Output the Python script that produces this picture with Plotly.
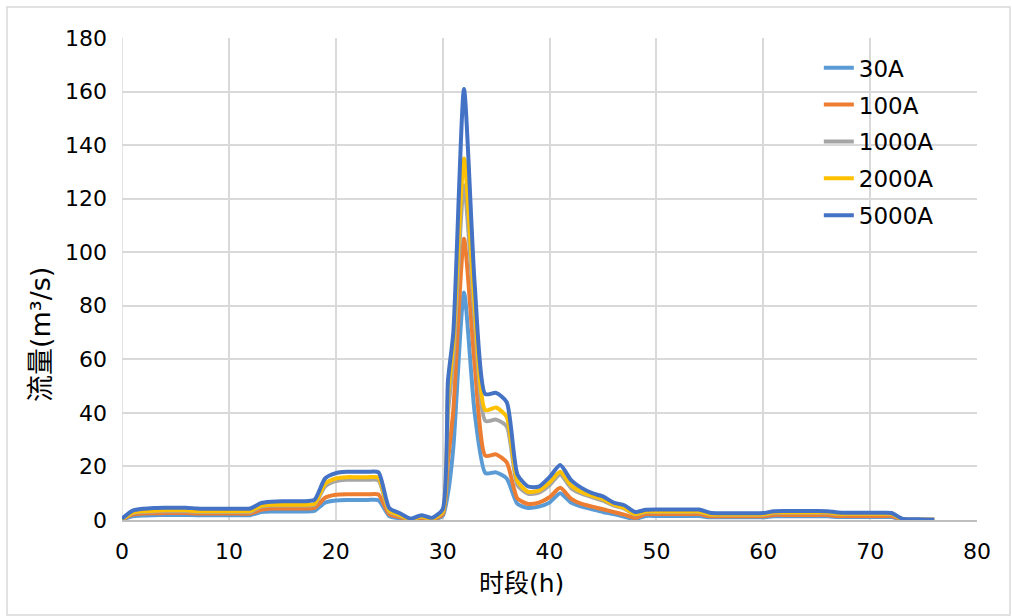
import plotly.graph_objects as go

hours = list(range(0, 31)) + [30.5] + list(range(31, 77))
hours = sorted(hours)

q_30A = [0.1, 1.4, 1.7, 1.8, 1.9, 1.9, 1.9, 1.8, 1.8, 1.8, 1.8, 1.8, 1.8,
         3.0, 3.2, 3.2, 3.2, 3.2, 3.4, 6.5, 7.3, 7.5, 7.5, 7.5, 7.4,
         1.5, 0.6, 0.1, 0.5, 0.2, 1.5, 10, 27, 85, 40, 17.5, 17.8, 15.5,
         6.0, 4.5, 5.0, 6.5, 10.0, 6.5, 5.0, 4.0, 3.0, 2.2, 1.2, 0.3,
         1.5, 1.5, 1.5, 1.5, 1.5, 1.5, 1.0, 1.0, 1.0, 1.0, 1.0, 1.0,
         1.4, 1.4, 1.4, 1.4, 1.4, 1.4, 1.1, 1.1, 1.1, 1.1, 1.1, 1.1,
         0.1, 0.05, 0.05, 0.05]

q_100A = [0.2, 2.0, 2.4, 2.5, 2.6, 2.6, 2.6, 2.4, 2.4, 2.4, 2.4, 2.4, 2.4,
          3.8, 4.3, 4.3, 4.3, 4.3, 4.5, 8.3, 9.4, 9.6, 9.6, 9.6, 9.5,
          2.2, 1.0, 0.2, 0.8, 0.3, 2.0, 22, 41, 105, 58, 24, 24.5, 21.5,
          8.0, 6.0, 6.5, 8.5, 12.0, 8.0, 6.0, 5.0, 4.0, 3.0, 2.0, 0.8,
          2.2, 2.2, 2.2, 2.2, 2.2, 2.2, 1.4, 1.4, 1.4, 1.4, 1.4, 1.4,
          1.9, 1.9, 1.9, 1.9, 1.9, 1.9, 1.5, 1.5, 1.5, 1.5, 1.5, 1.5,
          0.2, 0.05, 0.05, 0.05]

q_1000A = [0.3, 2.6, 3.0, 3.2, 3.3, 3.3, 3.3, 3.0, 3.0, 3.0, 3.0, 3.0, 3.0,
           5.0, 5.4, 5.4, 5.4, 5.4, 5.7, 12.5, 14.5, 15.0, 15.0, 15.0, 14.8,
           3.2, 1.6, 0.3, 1.2, 0.5, 2.8, 40, 60, 125, 75, 37, 37.5, 35,
           13.0, 9.8, 10.2, 13.0, 17.0, 12.0, 9.8, 8.5, 7.2, 5.4, 4.2, 2.0,
           3.0, 3.0, 3.0, 3.0, 3.0, 3.0, 2.0, 2.0, 2.0, 2.0, 2.0, 2.0,
           2.7, 2.7, 2.7, 2.7, 2.7, 2.7, 2.2, 2.2, 2.2, 2.2, 2.2, 2.2,
           0.3, 0.1, 0.1, 0.1]

q_2000A = [0.3, 2.8, 3.3, 3.5, 3.6, 3.6, 3.6, 3.3, 3.3, 3.3, 3.3, 3.3, 3.3,
           5.3, 5.7, 5.7, 5.7, 5.7, 6.0, 13.5, 15.5, 16.0, 16.0, 16.0, 15.8,
           3.5, 1.8, 0.3, 1.3, 0.5, 3.0, 46, 66, 135, 80, 41, 42, 38.5,
           14.5, 10.5, 11.0, 14.0, 18.0, 13.0, 10.5, 9.0, 7.8, 5.8, 4.5, 2.2,
           3.2, 3.2, 3.2, 3.2, 3.2, 3.2, 2.1, 2.1, 2.1, 2.1, 2.1, 2.1,
           2.9, 2.9, 2.9, 2.9, 2.9, 2.9, 2.3, 2.3, 2.3, 2.3, 2.3, 2.3,
           0.3, 0.1, 0.1, 0.1]

q_5000A = [0.5, 3.5, 4.2, 4.5, 4.6, 4.6, 4.6, 4.3, 4.2, 4.2, 4.2, 4.2, 4.3,
           6.3, 6.8, 7.0, 7.0, 7.0, 7.5, 15.5, 17.5, 18.0, 18.0, 18.0, 17.8,
           4.5, 2.5, 0.5, 1.8, 0.8, 4.0, 52, 70, 161, 88, 47, 47.5, 44,
           17.0, 12.5, 12.5, 16.0, 20.5, 15.0, 12.0, 10.0, 8.8, 6.5, 5.5, 3.0,
           3.8, 3.9, 3.9, 3.9, 3.9, 3.9, 2.7, 2.5, 2.5, 2.5, 2.5, 2.6,
           3.3, 3.4, 3.4, 3.4, 3.4, 3.3, 2.8, 2.7, 2.7, 2.7, 2.7, 2.6,
           0.5, 0.3, 0.2, 0.1]

series_names = ["30A", "100A", "1000A", "2000A", "5000A"]
series_values = [q_30A, q_100A, q_1000A, q_2000A, q_5000A]
series_colors = ["#5B9BD5", "#ED7D31", "#A5A5A5", "#FFC000", "#4472C4"]

x_ticks = [0, 10, 20, 30, 40, 50, 60, 70, 80]
y_ticks = [0, 20, 40, 60, 80, 100, 120, 140, 160, 180]
x_title = "时段(h)"
y_title = "流量(m³/s)"

fig = go.Figure()
for name, vals, col in zip(series_names, series_values, series_colors):
    fig.add_trace(go.Scatter(
        x=hours, y=vals, name=name, mode="lines",
        line=dict(color=col, width=4, shape="spline", smoothing=0.6),
        legendgroup=name,
    ))

font_fam = "DejaVu Sans, Noto Sans CJK SC, sans-serif"
grid_col = "#D9D9D9"

# plot area in pixels: x 122..977, y 38..520
PL, PR, PT, PB = 122, 977, 38, 520
def px_x(p):
    return (p - PL) / (PR - PL)
def px_y(p):
    return (PB - p) / (PB - PT)

fig.update_layout(
    width=1012, height=616,
    margin=dict(l=PL, r=1012 - PR, t=PT, b=616 - PB),
    paper_bgcolor="white", plot_bgcolor="white",
    font=dict(family=font_fam, size=22, color="#000000"),
    showlegend=True,
    legend=dict(
        x=0.815, y=0.983, xanchor="left", yanchor="top",
        bgcolor="rgba(255,255,255,0)",
        font=dict(size=23, color="#000000"),
        traceorder="grouped", tracegroupgap=4,
    ),
    xaxis=dict(
        range=[0, 80], tickvals=x_ticks, showgrid=True, gridcolor=grid_col,
        gridwidth=1.5, zeroline=False, showline=True, linecolor="#BFBFBF",
        linewidth=1.5, ticks="", ticklabelstandoff=11,
        tickfont=dict(size=22),
    ),
    yaxis=dict(
        range=[0, 180], tickvals=y_ticks, showgrid=True, gridcolor=grid_col,
        gridwidth=1.5, zeroline=False, showline=False, ticks="",
        ticklabelstandoff=14,
        tickfont=dict(size=22),
    ),
)

fig.add_annotation(text=x_title, xref="paper", yref="paper",
                   x=px_x(521), y=px_y(583), xanchor="center", yanchor="middle",
                   showarrow=False, font=dict(size=25, family=font_fam))
fig.add_annotation(text=y_title, xref="paper", yref="paper",
                   x=px_x(40), y=px_y(335), xanchor="center", yanchor="middle",
                   textangle=-90, showarrow=False,
                   font=dict(size=27, family=font_fam))

# vertical grid line at x=0 (left edge of plot area)
fig.add_shape(type="line", xref="x", yref="paper", x0=0, x1=0, y0=0, y1=1,
              line=dict(color=grid_col, width=1.5), layer="below")

# outer chart border
fig.add_shape(type="rect", xref="paper", yref="paper",
              x0=px_x(7), x1=px_x(1010), y0=px_y(615), y1=px_y(7),
              line=dict(color="#D9D9D9", width=1.5), layer="below")

fig.write_html("out.html")
